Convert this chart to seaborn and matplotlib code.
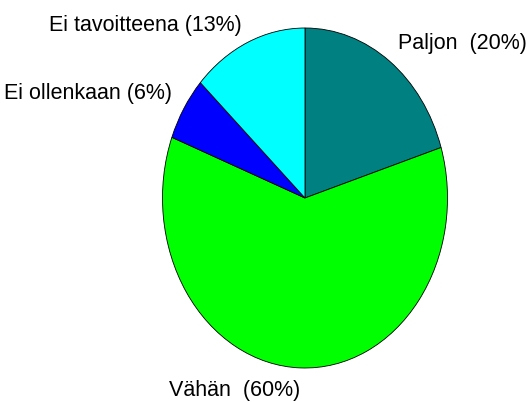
import matplotlib
matplotlib.use("Agg")
import matplotlib.pyplot as plt
import matplotlib.transforms as mtransforms
import seaborn as sns

# pie slices, clockwise from 12 o'clock
labels = ["Paljon  (20%)", "Vähän  (60%)", "Ei ollenkaan (6%)", "Ei tavoitteena (13%)"]
shares = [20, 60, 6, 13]
colors = ["#008080", "#00FF00", "#0000FF", "#00FFFF"]

sns.set_theme(style="white")
plt.rcParams["font.family"] = ["Liberation Sans", "DejaVu Sans"]

fig = plt.figure(figsize=(5.27, 4.03), dpi=100)
ax = fig.add_axes([0, 0, 1, 1])

wedges, texts = ax.pie(shares, labels=labels, colors=sns.color_palette(colors),
                       startangle=90, counterclock=False, labeldistance=1.1,
                       wedgeprops={"edgecolor": "black", "linewidth": 0.6},
                       textprops={"fontsize": 15.5, "color": "black"})

# small vertical nudges (pixels) so labels sit like the original
nudges = [4, -6, 6, 1]
for t, dy in zip(texts, nudges):
    t.set_transform(t.get_transform() +
                    mtransforms.ScaledTranslation(0, dy / 100, fig.dpi_scale_trans))

# R draws the pie stretched to the plot region, so let the aspect float
ax.set_aspect("auto")
ax.set_xlim(-305 / 142.5, (527 - 305) / 142.5)
ax.set_ylim(-205 / 170, (403 - 205) / 170)
ax.axis("off")

plt.savefig("out.png", dpi=100, facecolor="white")
plt.close()
